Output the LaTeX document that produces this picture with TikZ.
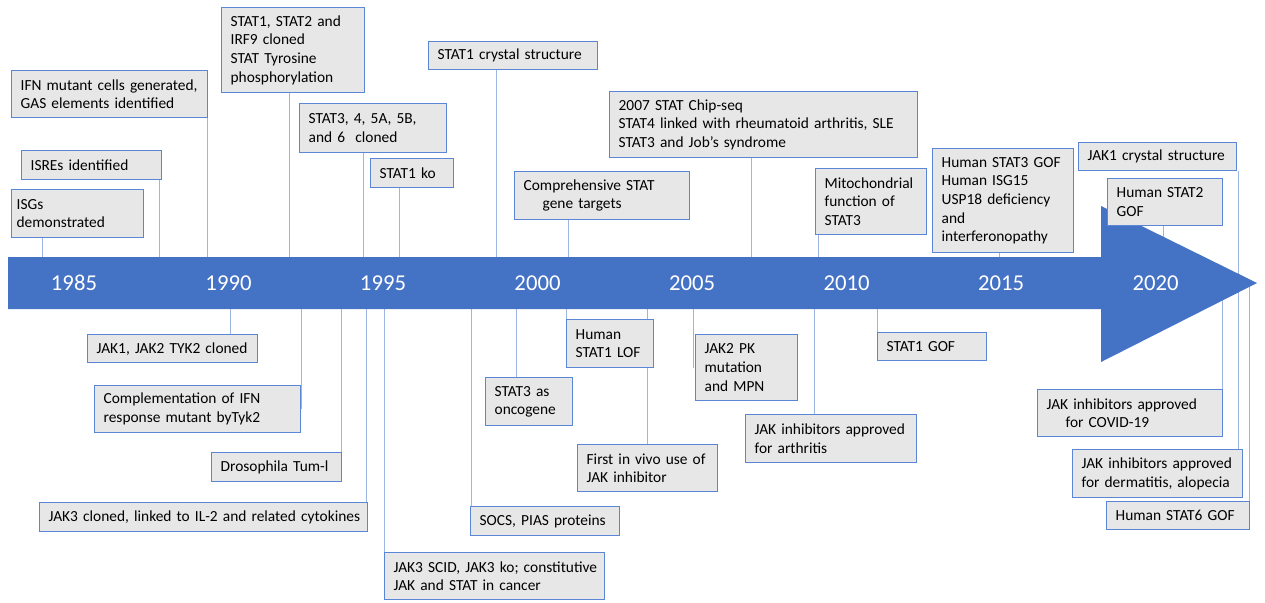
\documentclass[tikz,border=0pt]{standalone}
\usepackage{fontspec}
\setmainfont{Carlito}
\definecolor{bandblue}{HTML}{4472C4}
\definecolor{edgeblue}{HTML}{5B86D6}
\definecolor{linkblue}{HTML}{9DB5E3}
\definecolor{boxgray}{HTML}{E7E7E7}
\pgfdeclarelayer{links}
\pgfdeclarelayer{band}
\pgfsetlayers{links,band,main}
\begin{document}
\begin{tikzpicture}[x=1pt,y=-1pt,
  evbox/.style={draw=edgeblue, line width=1.3pt, fill=boxgray, anchor=north west,
    align=left, inner xsep=9pt, inner ysep=3pt, font=\fontsize{15.4}{18.6}\selectfont},
  link/.style={draw=linkblue, line width=1pt},
  yearlbl/.style={text=white, font=\fontsize{22.7}{24}\selectfont}]
\useasboundingbox (0,0) rectangle (1265,602);
\coordinate (axis) at (0,283);

%EVENTS ABOVE THE BAND
\node[evbox, inner xsep=5pt, text width=122, minimum height=48] (isg) at (11,189) {ISGs\\demonstrated};
\node[evbox, text width=122, minimum height=29] (isre) at (21,150) {ISREs identified};
\node[evbox, text width=178, minimum height=47] (ifnmut) at (11,70) {\mbox{IFN mutant cells generated,}\\GAS elements identified};
\node[evbox, text width=125, minimum height=85] (statclone) at (221,7) {STAT1, STAT2 and\\IRF9 cloned\\STAT Tyrosine\\phosphorylation};
\node[evbox, text width=129, minimum height=49] (statfam) at (299,103) {STAT3, 4, 5A, 5B,\\and 6 \ cloned};
\node[evbox, text width=65, minimum height=29] (statko) at (370,158) {STAT1 ko};
\node[evbox, text width=151, minimum height=28] (crystal) at (428,41) {STAT1 crystal structure};
\node[evbox, text width=157, minimum height=48] (targets) at (514,171) {Comprehensive STAT\\\hspace*{19pt}gene targets};
\node[evbox, text width=290, minimum height=66] (chipseq) at (609,91) {2007 STAT Chip-seq\\\mbox{STAT4 linked with rheumatoid arthritis, SLE}\\STAT3 and Job’s syndrome};
\node[evbox, text width=93, minimum height=66] (mito) at (815,168) {Mitochondrial\\function of\\STAT3};
\node[evbox, text width=123, minimum height=104] (gofthree) at (932,148) {Human STAT3 GOF\\Human ISG15\\\mbox{USP18 deficiency}\\and\\interferonopathy};
\node[evbox, text width=140, minimum height=28] (jakcrystal) at (1078,142) {\mbox{JAK1 crystal structure}};
\node[evbox, text width=97, minimum height=47] (goftwo) at (1107,178) {Human STAT2\\GOF};

%EVENTS BELOW THE BAND
\node[evbox, text width=152, minimum height=28] (jakclone) at (87,334) {\mbox{JAK1, JAK2 TYK2 cloned}};
\node[evbox, text width=188, minimum height=47] (tyk) at (94,385) {Complementation of IFN\\response mutant byTyk2};
\node[evbox, text width=112, minimum height=29] (tum) at (211,452) {\mbox{Drosophila Tum-l}};
\node[evbox, text width=310, minimum height=29] (jakthree) at (39,502) {\mbox{JAK3 cloned, linked to IL-2 and related cytokines}};
\node[evbox, text width=202, minimum height=47] (scid) at (384,552) {\mbox{JAK3 SCID, JAK3 ko; constitutive}\\JAK and STAT in cancer};
\node[evbox, text width=131, minimum height=29] (socs) at (470,506) {\mbox{SOCS, PIAS proteins}};
\node[evbox, text width=69, minimum height=48] (onco) at (485,377) {STAT3 as\\oncogene};
\node[evbox, text width=69, minimum height=48] (lof) at (566,319) {Human\\\mbox{STAT1 LOF}};
\node[evbox, text width=122, minimum height=47] (invivo) at (577,444) {\mbox{First in vivo use of}\\JAK inhibitor};
\node[evbox, text width=84, minimum height=66] (mpn) at (695,334) {JAK2 PK\\mutation\\and MPN};
\node[evbox, text width=153, minimum height=48] (arth) at (745,414) {\mbox{JAK inhibitors approved}\\for arthritis};
\node[evbox, text width=91, minimum height=28] (gofone) at (877,332) {STAT1 GOF};
\node[evbox, text width=167, minimum height=47] (covid) at (1037,389) {\mbox{JAK inhibitors approved}\\\hspace*{19pt}for COVID-19};
\node[evbox, text width=152, minimum height=48] (derm) at (1072,449) {\mbox{JAK inhibitors approved}\\\mbox{for dermatitis, alopecia}};
\node[evbox, text width=125, minimum height=28] (gofsix) at (1106,501) {\mbox{Human STAT6 GOF}};

%BAND
\begin{pgfonlayer}{band}
\fill[bandblue] (8,257) -- (1101,257) -- (1101,206) -- (1257,283) -- (1101,362) -- (1101,309) -- (8,309) -- cycle;
\foreach \yr [count=\i from 0] in {1985,1990,...,2020}
  \node[yearlbl] (y\yr) at ({74+154.5*\i},283) {\yr};
\end{pgfonlayer}

%CONNECTORS
\begin{pgfonlayer}{links}
\foreach \x/\b/\a in {42/isg/south, 159/isre/south, 207/ifnmut/south, 289/statclone/south,
    363/statfam/south, 399/statko/south, 496/crystal/south, 568/targets/south,
    751/chipseq/south, 818/mito/south, 999/gofthree/south, 1163/goftwo/south,
    1238/jakcrystal/south, 230/jakclone/north, 301/tyk/east, 341/tum/north,
    366/jakthree/north, 384/scid/north, 471/socs/north, 516/onco/north,
    566/lof/north, 647/invivo/north, 693/mpn/west, 814/arth/north,
    877/gofone/north, 1222/covid/north, 1238/derm/north, 1249/gofsix/north}
  {\coordinate (f) at (\x,283);
   \draw[link] (f) -- (f |- \b.\a);}
\end{pgfonlayer}
\end{tikzpicture}
\end{document}
